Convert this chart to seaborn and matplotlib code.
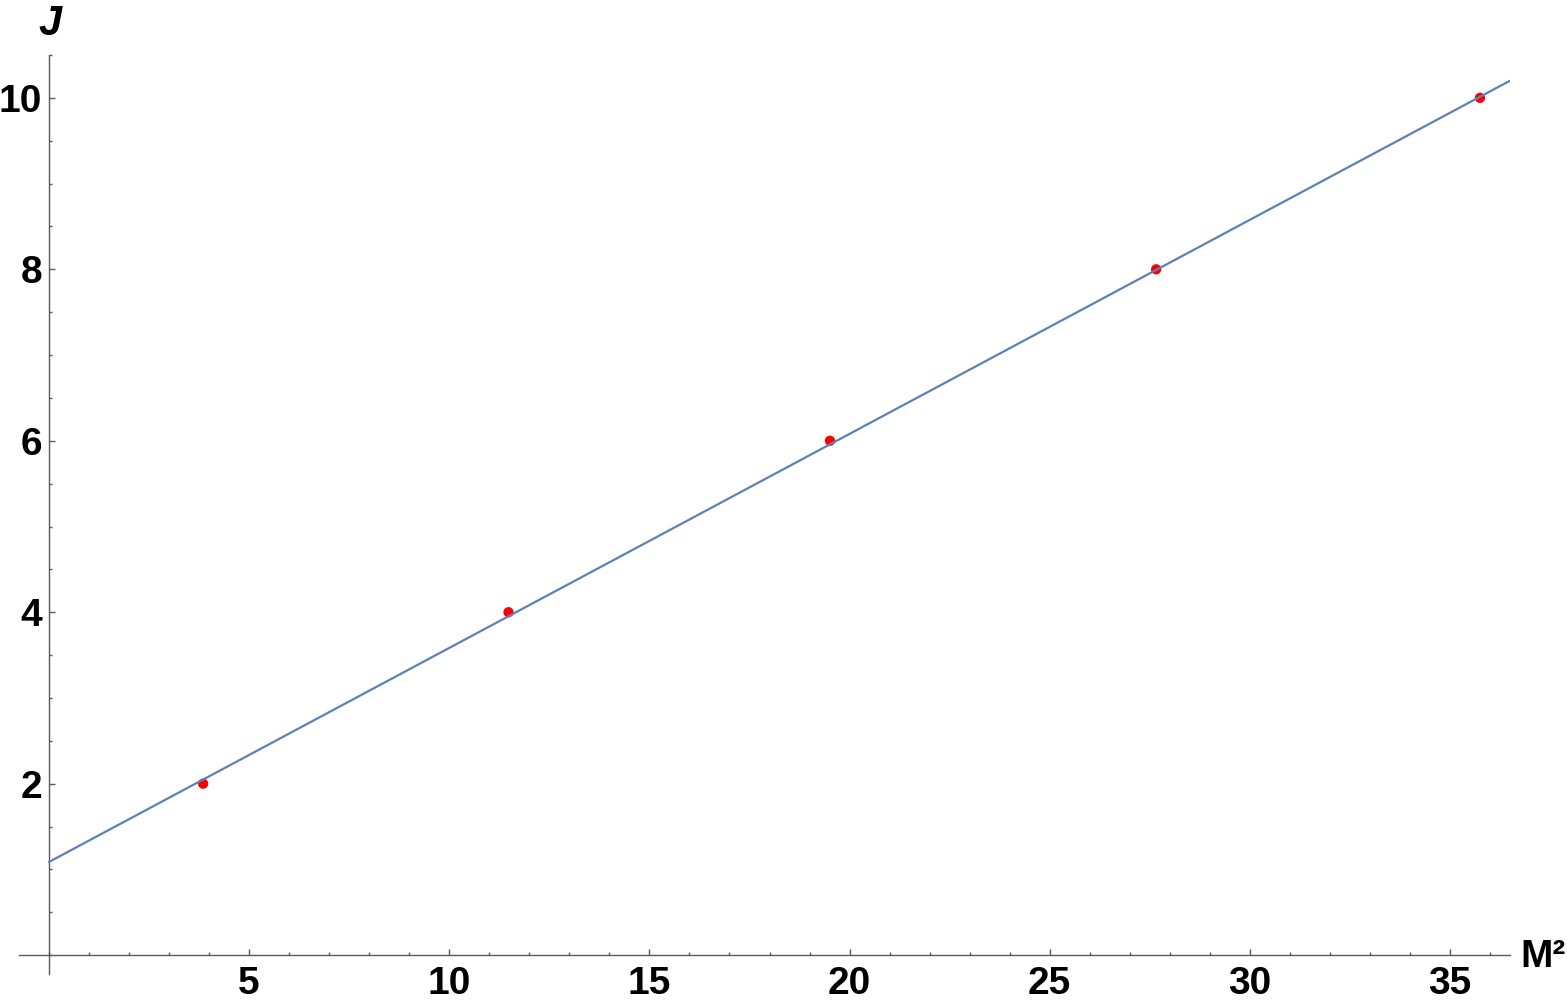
import matplotlib
matplotlib.use('Agg')
import matplotlib.pyplot as plt
import seaborn as sns
import pandas as pd
from matplotlib.ticker import MultipleLocator

# data
m2_points = [3.85, 11.48, 19.51, 27.66, 35.75]
j_points = [2, 4, 6, 8, 10]

# fitted trajectory, endpoints only
line_m2 = [0.0, 36.5]
line_j = [1.087, 10.20]

x_ticks = [5, 10, 15, 20, 25, 30, 35]
y_ticks = [2, 4, 6, 8, 10]

pts = pd.DataFrame({'M2': m2_points, 'J': j_points})
fit = pd.DataFrame({'M2': line_m2, 'J': line_j})

sns.set_theme(style='white')
plt.rcParams['font.family'] = ['Liberation Sans', 'DejaVu Sans']

axis_col = '#5a5a5a'

fig = plt.figure(figsize=(15.67, 10.05), dpi=100)
ax = fig.add_axes([19 / 1567, 31 / 1005, (1510 - 19) / 1567, (974 - 55) / 1005])

sns.scatterplot(data=pts, x='M2', y='J', color='red', s=55, edgecolor='none', zorder=2, ax=ax)
sns.lineplot(data=fit, x='M2', y='J', color='#5E81B5', linewidth=1.6, zorder=3, ax=ax)

ax.set_xlim(-0.75, 36.5)
ax.set_ylim(-0.22, 10.5)

# axes cross at the origin, Mathematica style
ax.spines['left'].set_position(('data', 0))
ax.spines['bottom'].set_position(('data', 0))
ax.spines['right'].set_visible(False)
ax.spines['top'].set_visible(False)
for s in ['left', 'bottom']:
    ax.spines[s].set_color(axis_col)
    ax.spines[s].set_linewidth(1.0)

ax.set_xticks(x_ticks)
ax.set_yticks(y_ticks)
ax.xaxis.set_minor_locator(MultipleLocator(1))
ax.yaxis.set_minor_locator(MultipleLocator(0.5))
ax.tick_params(which='both', direction='in', color=axis_col, width=1.0,
               bottom=True, left=True, top=False, right=False)
ax.tick_params(which='major', length=4.5)
ax.tick_params(which='minor', length=2.5)
ax.tick_params(axis='x', which='major', pad=8)
ax.tick_params(axis='y', which='major', pad=5)
for lbl in ax.get_xticklabels() + ax.get_yticklabels():
    lbl.set_fontsize(28)
    lbl.set_fontweight('bold')
    lbl.set_color('black')

ax.set_xlabel('')
ax.set_ylabel('')
ax.grid(False)

fig.text(1520 / 1567, 1 - 957 / 1005, 'M²', ha='left', va='center',
         fontsize=28, fontweight='bold', color='black')
fig.text(50 / 1567, 1 - 24 / 1005, 'J', ha='center', va='center',
         fontsize=30, fontweight='bold', style='italic', color='black')

fig.savefig('out.png', dpi=100)
